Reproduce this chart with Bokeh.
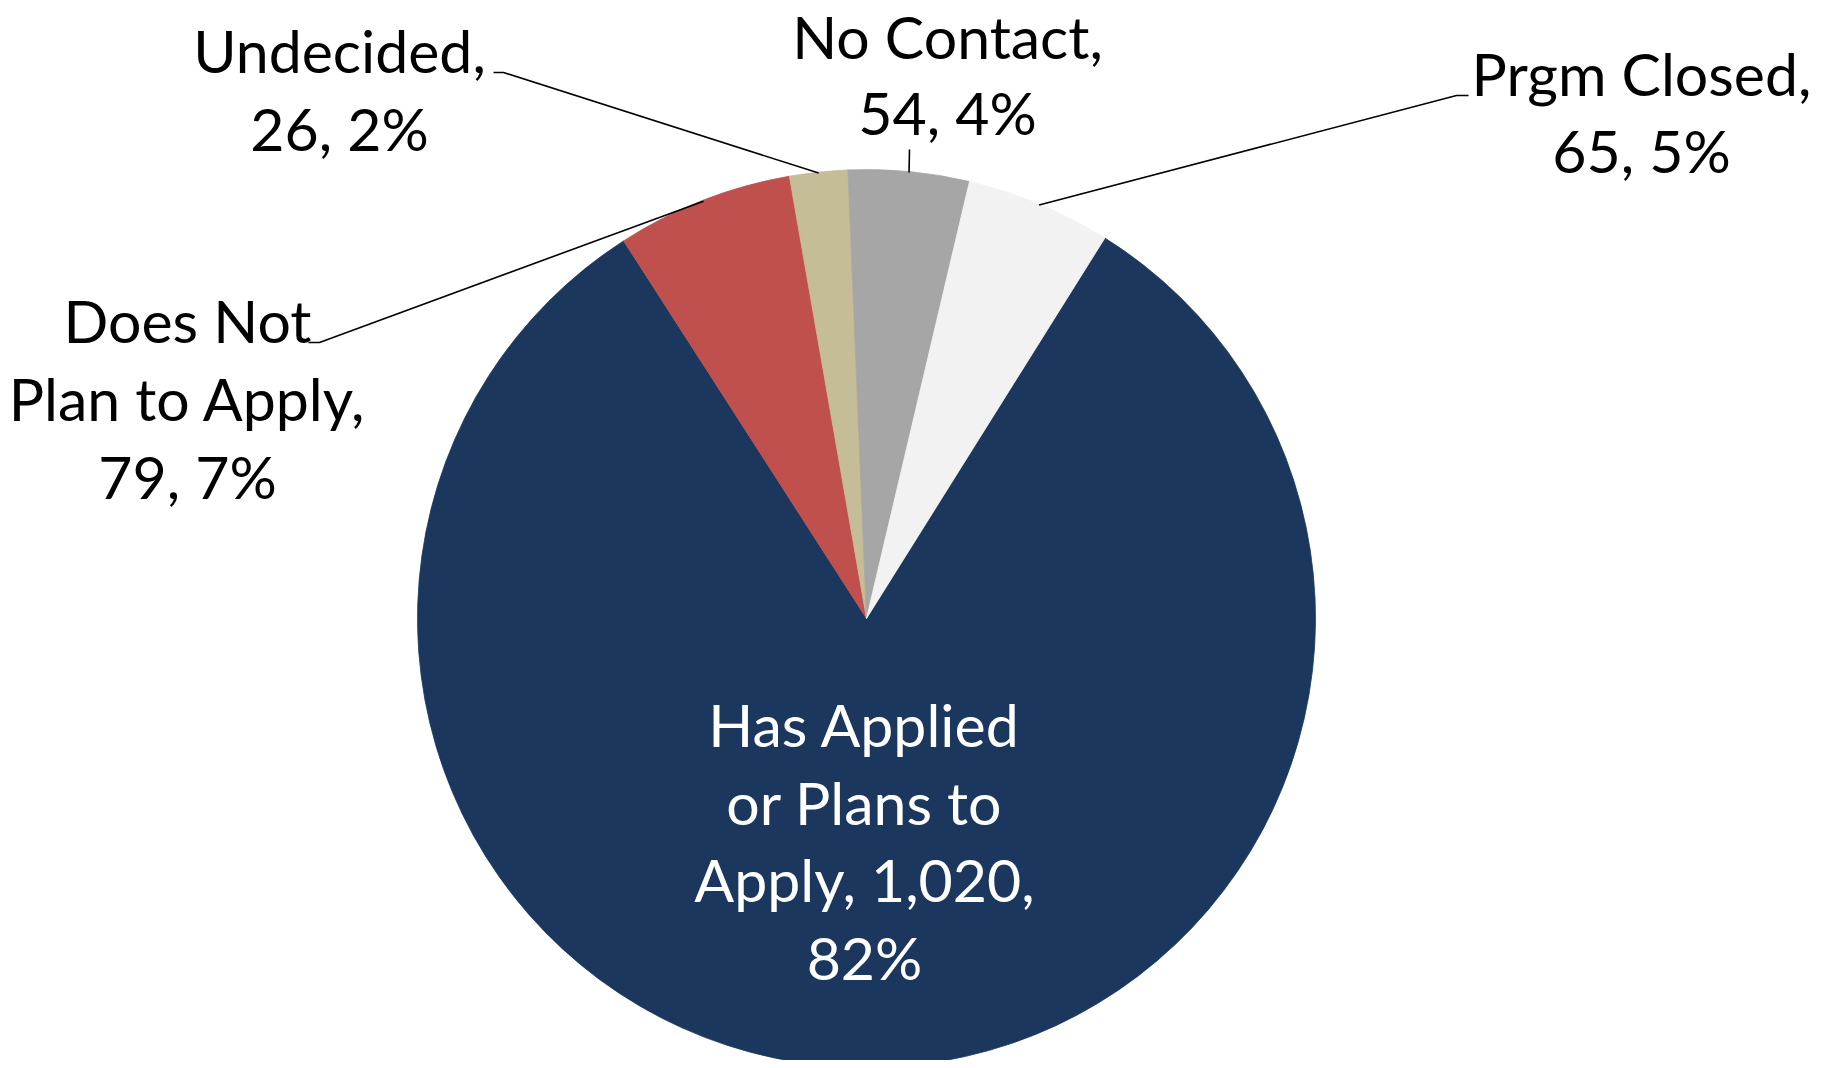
import math
from bokeh.plotting import figure
from bokeh.models import Range1d, ColumnDataSource
from bokeh.embed import file_html
from bokeh.resources import INLINE
from bokeh.core.properties import value

# ---------------- data ----------------
categories = ["Has Applied or Plans to Apply", "Does Not Plan to Apply",
              "Undecided", "No Contact", "Prgm Closed"]
counts = [1020, 79, 26, 54, 65]
percents = ["82%", "7%", "2%", "4%", "5%"]
label_lines = [
    ["Has Applied", "or Plans to", "Apply, 1,020,", "82%"],
    ["Does Not", "Plan to Apply,", "79, 7%"],
    ["Undecided,", "26, 2%"],
    ["No Contact,", "54, 4%"],
    ["Prgm Closed,", "65, 5%"],
]

# ---------------- style / layout ----------------
colors = ["#1B375E", "#C0504D", "#C4BD97", "#A6A6A6", "#F2F2F2"]
text_colors = ["white", "black", "black", "black", "black"]
CX, CY, R = 866, 618, 449          # pie centre / radius in page pixels
START_DEG = 57.93                   # math angle where first slice starts (clockwise)
FONT = "Lato"
FONT_SIZE = "59px"
TEXT_DY = 22                        # renderer baseline correction (px)
# label anchor: centre x, first-line baseline y (page pixels)
label_anchor = [(864, 746), (187, 342), (339, 72), (947, 58), (1641, 95)]
line_steps = [77.5, 78, 78, 76, 77]
# leader line points from label side (page pixels) before reaching the slice edge
leader_pts = [None, [(308, 342), (319, 342)], [(493, 72), (503, 72)],
              [(909, 149)], [(1468, 95), (1456, 95)]]


def px(x):
    return x - CX


def py(y):
    return CY - y


W, H = 1811, 1060
p = figure(width=W, height=H, output_backend="svg", toolbar_location=None,
           x_range=Range1d(0 - CX, W - CX), y_range=Range1d(CY - H, CY),
           x_axis_location=None, y_axis_location=None, min_border=0,
           outline_line_color=None, background_fill_color="white",
           border_fill_color="white")
p.grid.visible = False

total = float(sum(counts))
start = math.radians(START_DEG)
starts, ends, mids = [], [], []
cum = 0.0
for c in counts:
    a0 = start - 2 * math.pi * cum / total
    cum += c
    a1 = start - 2 * math.pi * cum / total
    starts.append(a0)
    ends.append(a1)
    mids.append((a0 + a1) / 2)

src = ColumnDataSource(dict(start=ends, end=starts, color=colors, cat=categories,
                            count=counts))
p.wedge(x=0, y=0, radius=R, start_angle="start", end_angle="end",
        fill_color="color", line_color="color", line_width=0.8, source=src)

# leader lines
for i, pts in enumerate(leader_pts):
    if pts is None:
        continue
    ex = (R - 1) * math.cos(mids[i])
    ey = (R - 1) * math.sin(mids[i])
    xs = [px(x) for x, _ in pts] + [ex]
    ys = [py(y) for _, y in pts] + [ey]
    p.line(xs, ys, line_color="black", line_width=1.6)

# labels
tx, ty, tt, tc = [], [], [], []
for i, lines in enumerate(label_lines):
    ax, ay = label_anchor[i]
    for j, s in enumerate(lines):
        tx.append(px(ax))
        ty.append(py(ay + j * line_steps[i] - TEXT_DY))
        tt.append(s)
        tc.append(text_colors[i])
tsrc = ColumnDataSource(dict(x=tx, y=ty, text=tt, color=tc))
p.text(x="x", y="y", text="text", text_color="color", source=tsrc,
       text_font=value(FONT), text_font_size=FONT_SIZE,
       text_align="center", text_baseline="alphabetic")

open("out.html", "w").write(file_html(p, INLINE))
